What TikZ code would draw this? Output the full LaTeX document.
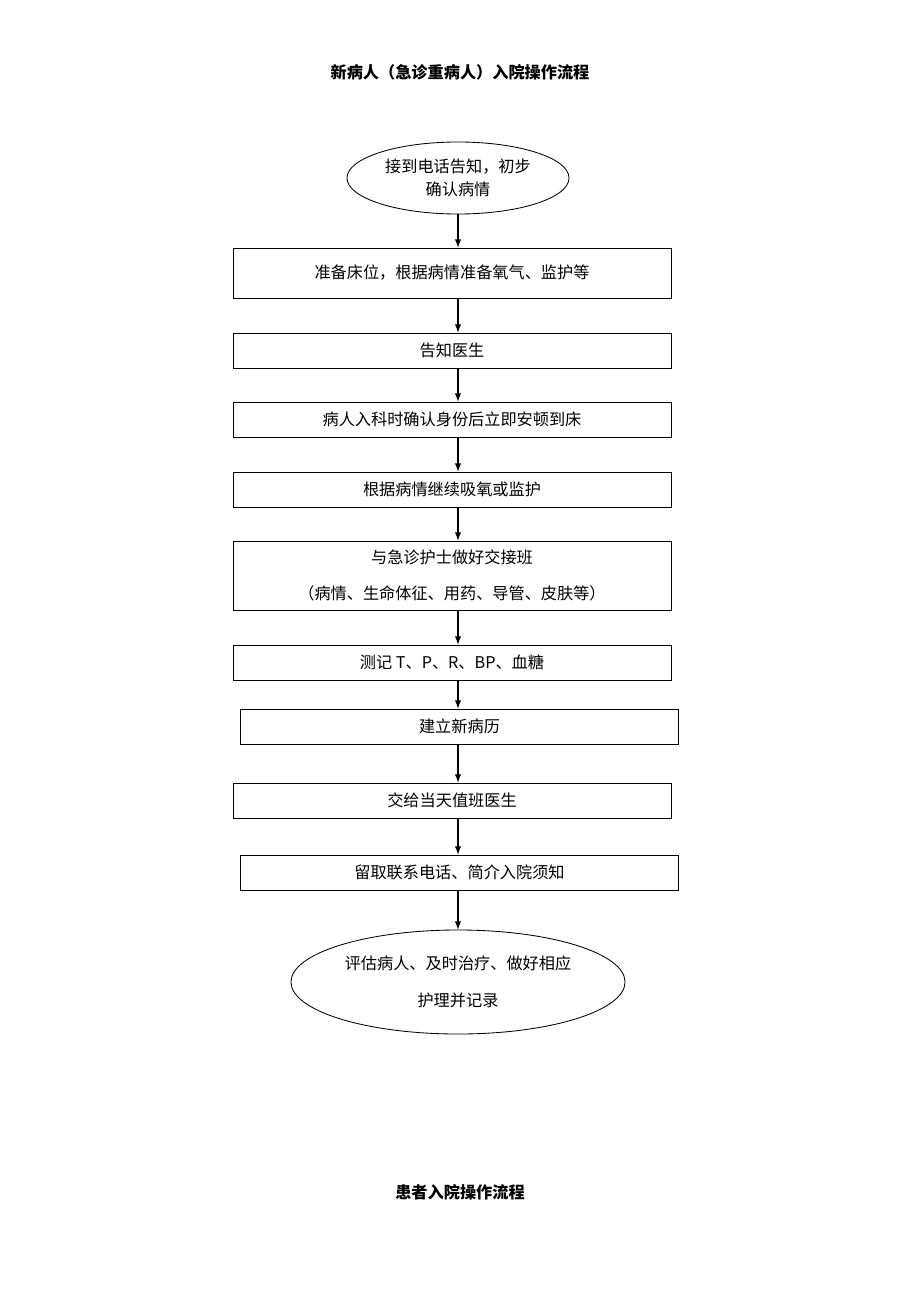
\documentclass[tikz,border=0pt]{standalone}
\usepackage{fontspec}
\setmainfont{Noto Sans CJK SC}
\usetikzlibrary{shapes.geometric,arrows}
\begin{document}
\begin{tikzpicture}[x=0.025cm,y=-0.025cm,
  every node/.style={font=\fontsize{11.5}{14}\selectfont},
  flowbox/.style={draw, line width=0.6pt, minimum width=10.95cm, inner sep=0pt},
  oval/.style={draw, ellipse, line width=0.6pt, inner sep=0pt, align=center},
  arr/.style={->, >=latex, line width=1pt}]
\useasboundingbox (0,0) rectangle (920,1302);
\node[font=\bfseries\fontsize{11.5}{14}\selectfont] (title) at (460,72) {新病人（急诊重病人）入院操作流程};
\node[oval, minimum width=5.55cm, minimum height=1.8cm] (e1) at (458,178) {接到电话告知，初步\\[2pt]确认病情};
\node[flowbox, minimum height=1.25cm] (b2) at (452,273) {准备床位，根据病情准备氧气、监护等};
\node[flowbox, minimum height=0.875cm] (b3) at (452,350.5) {告知医生};
\node[flowbox, minimum height=0.875cm] (b4) at (452,419.5) {病人入科时确认身份后立即安顿到床};
\node[flowbox, minimum height=0.875cm] (b5) at (452,489.5) {根据病情继续吸氧或监护};
\node[flowbox, minimum height=1.725cm, align=center] (b6) at (452,575.5) {与急诊护士做好交接班\\[12pt]（病情、生命体征、用药、导管、皮肤等）};
\node[flowbox, minimum height=0.875cm] (b7) at (452,662.5) {测记 T、P、R、BP、血糖};
\node[flowbox, minimum height=0.875cm] (b8) at (459.5,726.5) {建立新病历};
\node[flowbox, minimum height=0.875cm] (b9) at (452,800.5) {交给当天值班医生};
\node[flowbox, minimum height=0.875cm] (b10) at (459.5,872.5) {留取联系电话、简介入院须知};
\node[oval, minimum width=8.35cm, minimum height=2.6cm] (e11) at (458,982) {评估病人、及时治疗、做好相应\\[12pt]护理并记录};
\node[font=\bfseries\fontsize{11.5}{14}\selectfont] (foot) at (460,1192) {患者入院操作流程};
\draw[arr] (e1.south) -- (b2.north -| e1.south);
\foreach \a/\b in {b2/b3,b3/b4,b4/b5,b5/b6,b6/b7,b7/b8,b8/b9,b9/b10}
  \draw[arr] (\a.south -| e1.south) -- (\b.north -| e1.south);
\draw[arr] (b10.south -| e1.south) -- (e11.north);
\end{tikzpicture}
\end{document}
